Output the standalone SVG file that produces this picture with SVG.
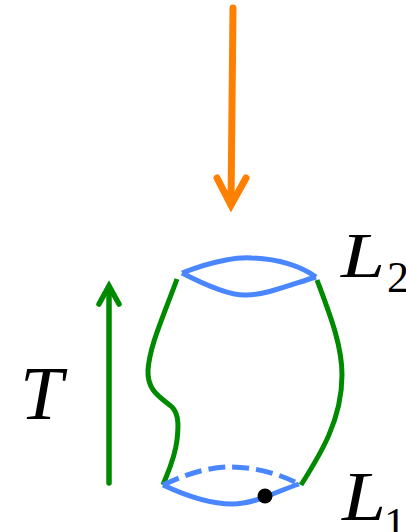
<svg xmlns="http://www.w3.org/2000/svg" width="406" height="532" viewBox="0 0 406 532">
<style>
.blue{fill:none;stroke:#4a86ff;stroke-width:5;stroke-linecap:butt}
.green{fill:none;stroke:#008a00;stroke-width:5}
.lbl{font-family:"Liberation Serif",serif;font-style:italic;fill:#000}
.sub{font-family:"Liberation Serif",serif;fill:#000}
</style>
<rect width="406" height="532" fill="#fff"/>
<g id="connectors">
<g id="orange-arrow" fill="none" stroke="#ff8000" stroke-width="7" stroke-linecap="round" stroke-linejoin="miter">
<line x1="233" y1="8" x2="231" y2="204"/>
<polyline points="217,178 231,205 246,178"/>
</g>
<g id="time-arrow" fill="none" stroke="#008a00" stroke-width="5.5" stroke-linecap="round" stroke-linejoin="miter">
<line x1="109" y1="483" x2="109" y2="287"/>
<polyline points="99,304 109,286 119,304"/>
</g>
</g>
<g id="surface">
<path class="green" d="M177,279 C162,320 150,345 148,370 C147,392 162,398 172,407 C180,415 178,430 177,440 C175,458 168,472 163,485"/>
<path class="green" d="M317,280 C330,315 342,345 342,375 C342,420 320,455 301,485"/>
</g>
<g id="L2">
<path class="blue" d="M182,273 C215,260 240,257 252,258 C278,259 300,266 316,277"/>
<path class="blue" d="M182,273 C215,290 235,296 247,295 C265,295 290,285 316,277"/>
<text class="lbl" x="341" y="277" font-size="63" textLength="44" lengthAdjust="spacingAndGlyphs">L</text>
<text class="sub" x="387" y="292" font-size="44">2</text>
</g>
<g id="L1">
<path class="blue" stroke-dasharray="17,7" d="M163,485 C190,472 212,467 230,467 C255,467 280,474 299,484"/>
<path class="blue" d="M163,485 C195,500 215,504 232,504 C255,504 275,492 299,484"/>
<circle cx="265" cy="496" r="7.5" fill="#000"/>
<text class="lbl" x="342" y="520" font-size="70" textLength="44" lengthAdjust="spacingAndGlyphs">L</text>
<text class="sub" x="384" y="538" font-size="44">1</text>
</g>
<g id="T-label">
<text class="lbl" x="20" y="419" font-size="77">T</text>
</g>
</svg>
